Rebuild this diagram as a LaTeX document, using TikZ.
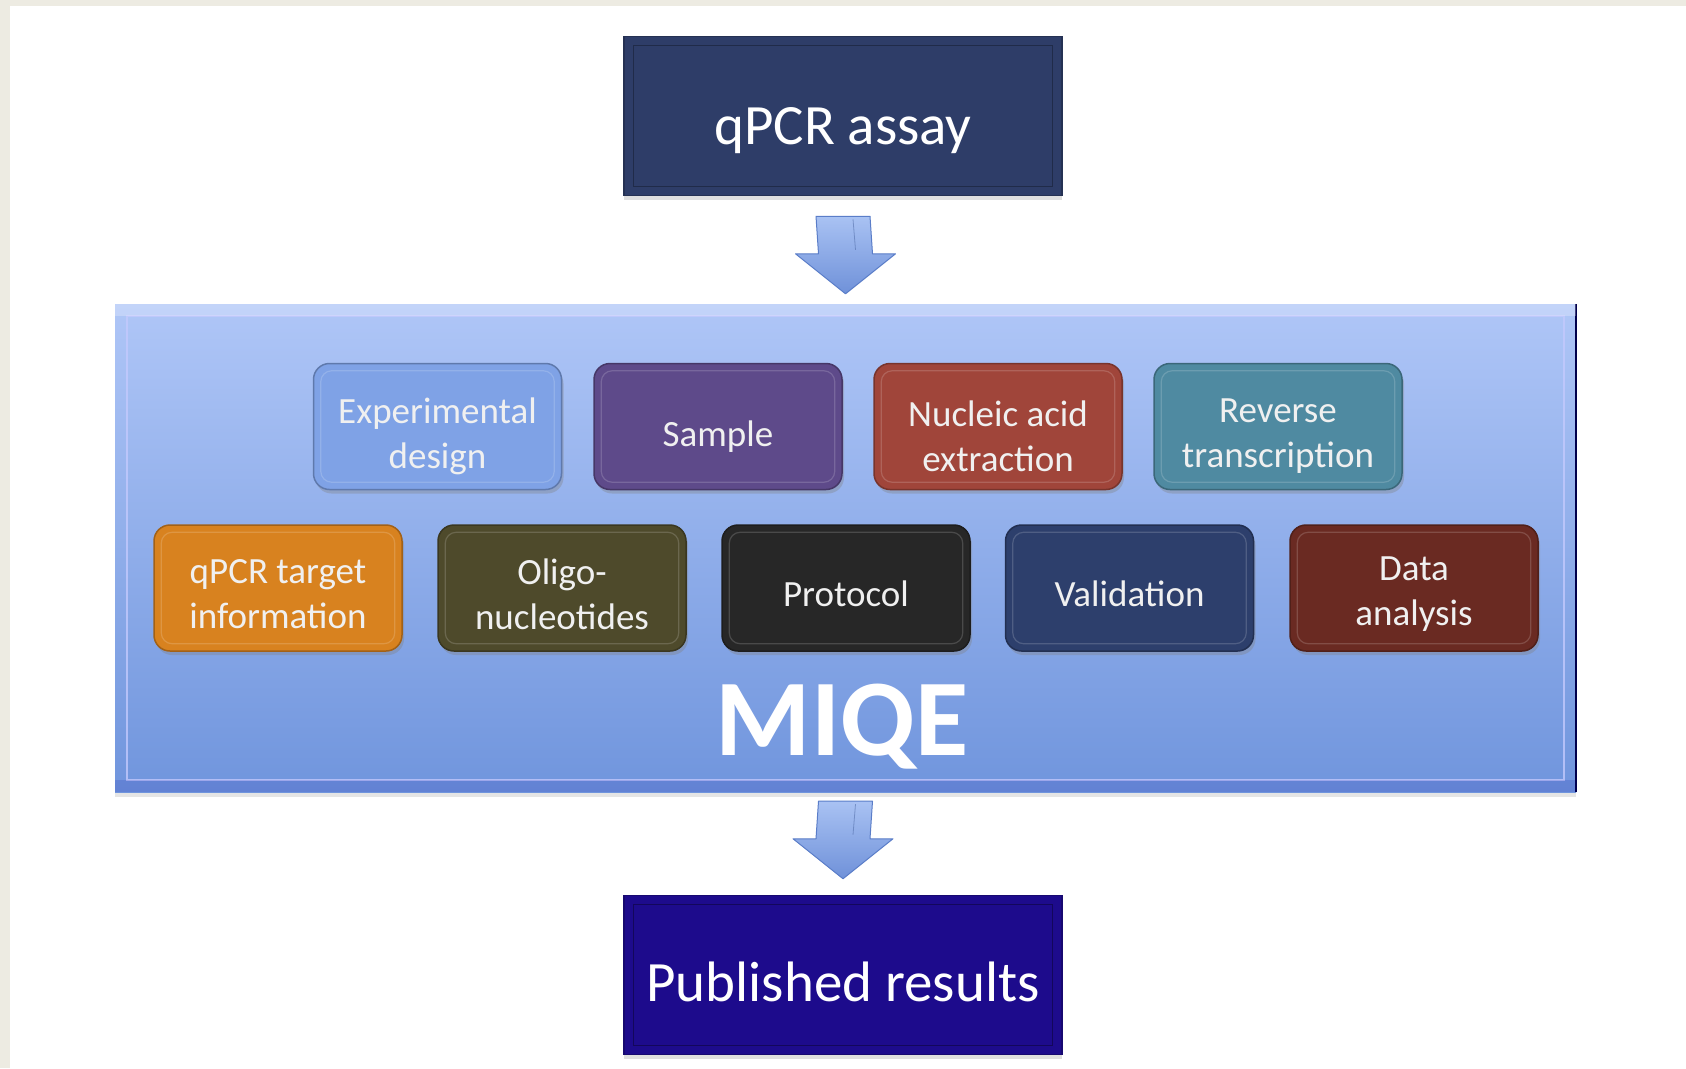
\documentclass[tikz,border=0pt]{standalone}
\usepackage{fontspec}
\setmainfont{Carlito}
\usetikzlibrary{calc,shadows}
\definecolor{beige}{HTML}{EDEBE2}
\definecolor{assayc}{HTML}{2E3D68}
\definecolor{pubc}{HTML}{1D0B8C}
\definecolor{paneltop}{HTML}{AFC6F7}
\definecolor{panelbot}{HTML}{7095DD}
\definecolor{cexp}{HTML}{7FA2E6}
\definecolor{csample}{HTML}{5E4A8A}
\definecolor{cnucl}{HTML}{A0453A}
\definecolor{crev}{HTML}{4F8AA1}
\definecolor{ctarget}{HTML}{D8821F}
\definecolor{coligo}{HTML}{4E4A2B}
\definecolor{cproto}{HTML}{272727}
\definecolor{cvalid}{HTML}{2D3F6C}
\definecolor{cdata}{HTML}{6A2A22}
\definecolor{arrtop}{HTML}{A9C2F3}
\definecolor{arrbot}{HTML}{6F91D9}
\definecolor{arredge}{HTML}{5A7DC8}
\tikzset{
  bigbox/.style={minimum width=438pt, minimum height=159pt, inner sep=0pt,
    drop shadow={shadow xshift=0pt, shadow yshift=-4pt, opacity=0.25}},
  bigtext/.style={inner sep=0pt, text=white, font=\fontsize{57}{66}\selectfont},
  item/.style={minimum width=248pt, minimum height=126pt, inner sep=0pt,
    rounded corners=16pt,
    drop shadow={shadow xshift=2pt, shadow yshift=-4pt, opacity=0.35}},
  itemtext/.style={inner sep=0pt, align=center, text=white!94!black,
    font=\fontsize{37}{45}\selectfont},
  barrow/.style={draw=arredge, line width=1pt, top color=arrtop, bottom color=arrbot, line join=round}
}
\newcommand{\itembox}[6]{% name, x, y, color, text, text offset
  \node[item, fill=#4, draw=#4!75!black, line width=1.5pt] (#1) at (#2,#3) {};
  \draw[#4!70!white, line width=1.2pt, rounded corners=11pt, opacity=0.55]
    ($(#1.south west)+(8,-8)$) rectangle ($(#1.north east)+(-8,8)$);
  \node[itemtext] (#1-t) at ($(#1.center)+(0,#6)$) {#5};
}
\newcommand{\blockarrow}[2]{% start coordinate, tip coordinate
  \draw[barrow] ($(#1)+(-27,0)$) -- ($(#1)+(27,0)$) -- ($(#2)+(27,-40)$) -- ($(#2)+(50,-40)$)
    -- (#2) -- ($(#2)+(-50,-40)$) -- ($(#2)+(-27,-40)$) -- cycle;
  \draw[arredge!80!black, line width=0.8pt, opacity=0.5] ($(#1)+(10,3)$) -- ($(#2)+(10,-44)$);
}
\begin{document}
\begin{tikzpicture}[x=1pt,y=-1pt]
  \useasboundingbox (0,0) rectangle (1686,1068);
  \fill[beige] (0,0) rectangle (1686,1068);
  \fill[white] (10,6) rectangle (1686,1068);

  % top box
  \node[bigbox, fill=assayc, draw=assayc!80!black, line width=1.5pt] (assay) at (843,116) {};
  \draw[assayc!70!black, line width=1.2pt] ($(assay.south west)+(10,-10)$) rectangle ($(assay.north east)+(-10,10)$);
  \node[bigtext] (assay-t) at ($(assay.center)+(0,15)$) {qPCR assay};

  % MIQE panel
  \node[minimum width=1461pt, minimum height=488pt, inner sep=0pt, top color=paneltop, bottom color=panelbot,
        draw=none, drop shadow={shadow xshift=0pt, shadow yshift=-5pt, opacity=0.2}] (panel) at (845.5,548) {};
  \draw[line width=2pt, draw=black!50!blue!60!black] (panel.north east) -- (panel.south east);
  \draw[line width=1.5pt, draw=paneltop!60!blue!40!white, opacity=0.8]
    ($(panel.south west)+(12,-12)$) rectangle ($(panel.north east)+(-12,12)$);
  \fill[white, opacity=0.25] (panel.north west) rectangle ($(panel.north east)+(0,12)$);
  \fill[blue!60!black, opacity=0.12] ($(panel.south west)+(0,-12)$) rectangle (panel.south east);

  % row 1
  \itembox{exp}{437.5}{426.5}{cexp}{Experimental\\design}{10}
  \itembox{sample}{718}{426.5}{csample}{Sample}{10}
  \itembox{nucl}{998}{426.5}{cnucl}{Nucleic acid\\extraction}{10}
  \itembox{rev}{1278}{426.5}{crev}{Reverse\\transcription}{10}
  % row 2
  \itembox{target}{278}{588}{ctarget}{qPCR target\\information}{6}
  \itembox{oligo}{562}{588}{coligo}{Oligo-\\nucleotides}{6}
  \itembox{proto}{846}{588}{cproto}{Protocol}{6}
  \itembox{valid}{1129.5}{588}{cvalid}{Validation}{6}
  \itembox{data}{1414}{588}{cdata}{Data\\analysis}{6}

  % MIQE label
  \node[text=white, font=\fontsize{109}{109}\bfseries\selectfont,
        drop shadow={shadow xshift=2pt, shadow yshift=-3pt, opacity=0}] (miqe) at (842,727) {MIQE};

  % bottom box
  \node[bigbox, fill=pubc, draw=pubc!80!black, line width=1.5pt] (pub) at (843,975) {};
  \draw[pubc!65!black, line width=1.2pt] ($(pub.south west)+(10,-10)$) rectangle ($(pub.north east)+(-10,10)$);
  \node[bigtext] (pub-t) at ($(pub.center)+(0,7)$) {Published results};

  % block arrows
  \coordinate (a1s) at ($(assay.south)+(0,20)$);
  \coordinate (a1e) at ($(panel.north)+(0,-10)$);
  \blockarrow{a1s}{a1e}
  \coordinate (a2s) at ($(panel.south)+(0,9)$);
  \coordinate (a2e) at ($(pub.north)+(0,-16)$);
  \blockarrow{a2s}{a2e}
\end{tikzpicture}
\end{document}
